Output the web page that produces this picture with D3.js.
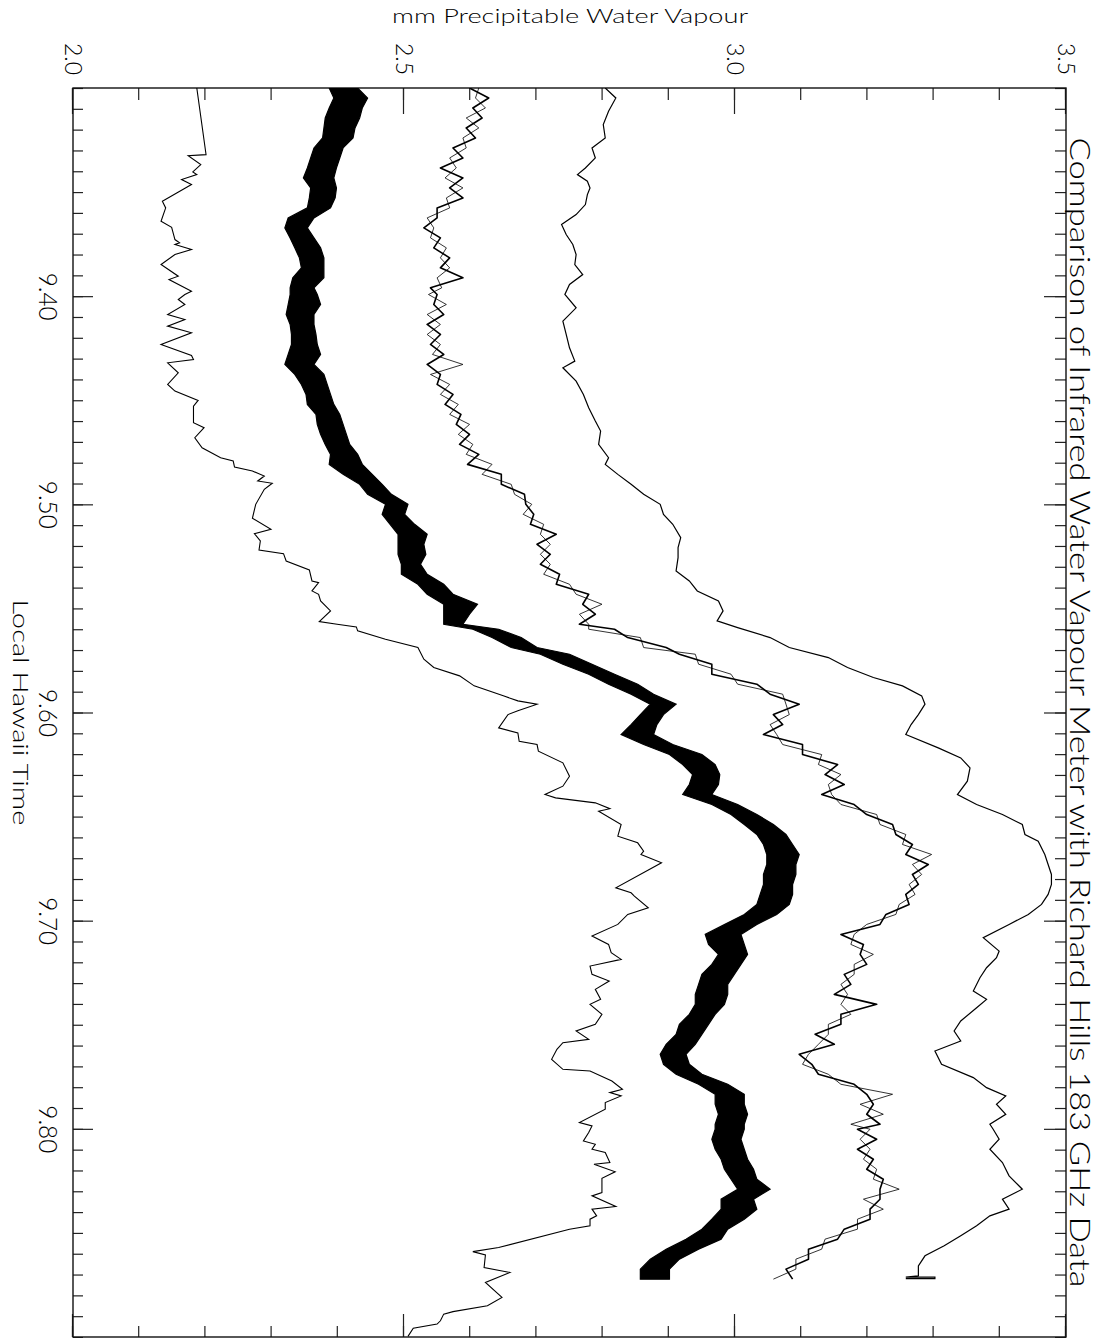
<!DOCTYPE html>
<html><head><meta charset="utf-8">
<script src="https://cdn.jsdelivr.net/npm/d3@7"></script>
<style>
body{margin:0;background:#fff}
svg{display:block}
text{font-family:"Lato","DejaVu Sans",sans-serif;font-weight:300;fill:#000}
</style>
</head><body>
<svg id="chart" width="1112" height="1338"></svg>
<script>
// ---------------- data ----------------
const titleText = "Comparison of Infrared Water Vapour Meter with Richard Hills 183 GHz Data";
const xTitle = "Local Hawaii Time";
const yTitle = "mm Precipitable Water Vapour";
const timeDomain = [9.30, 9.90];
const pwvDomain = [2.0, 3.5];
const timeTicks = [9.40, 9.50, 9.60, 9.70, 9.80];
const timeTickLabels = ["9.40", "9.50", "9.60", "9.70", "9.80"];
const pwvTicks = [2.0, 2.5, 3.0, 3.5];
const pwvTickLabels = ["2.0", "2.5", "3.0", "3.5"];

// series A: coarse trace (lowest)
const aTime = [9.3000,9.3320,9.3325,9.3368,9.3403,9.3416,9.3440,9.3464,9.3544,9.3576,9.3640,9.3669,9.3728,9.3744,9.3752,9.3776,9.3800,9.3848,9.3904,9.3920,9.3976,
9.3992,9.4016,9.4040,9.4088,9.4112,9.4144,9.4176,9.4232,9.4285,9.4304,9.4320,9.4368,9.4424,9.4456,9.4501,9.4528,9.4608,9.4632,9.4680,9.4728,9.4776,9.4792,9.4821,9.4840,9.4864,9.4888,9.4899,9.4928,
9.5000,9.5067,9.5120,9.5141,9.5176,9.5219,9.5237,9.5272,9.5315,9.5368,9.5376,9.5416,9.5432,9.5464,9.5512,9.5563,9.5576,9.5589,9.5608,9.5648,9.5688,9.5744,9.5784,9.5824,9.5872,9.5920,9.5944,9.5960,9.5992,
9.6010,9.6074,9.6098,9.6138,9.6154,9.6186,9.6242,9.6306,9.6354,9.6394,9.6410,9.6434,9.6462,9.6474,9.6538,9.6594,9.6626,9.6666,9.6682,9.6722,9.6842,9.6866,9.6882,9.6938,9.6970,
9.7018,9.7074,9.7114,9.7154,9.7186,9.7218,9.7258,9.7290,9.7330,9.7378,9.7402,9.7450,9.7498,9.7530,9.7570,9.7586,9.7618,9.7666,9.7714,9.7722,9.7770,9.7810,9.7826,9.7842,9.7874,9.7906,9.7970,9.7986,
9.8018,9.8058,9.8074,9.8098,9.8114,9.8162,9.8170,9.8206,9.8238,9.8306,9.8322,9.8373,9.8386,9.8418,9.8434,9.8466,9.8482,9.8570,9.8590,9.8606,9.8666,9.8690,9.8738,9.8810,9.8850,9.8878,9.8890,9.8922,9.8938,9.8958,9.8997];
const aValue = [2.187,2.201,2.174,2.193,2.181,2.187,2.164,2.179,2.135,2.140,2.133,2.149,2.154,2.161,2.154,2.179,2.154,2.133,2.159,2.145,2.179,
2.169,2.159,2.169,2.143,2.169,2.143,2.179,2.133,2.179,2.182,2.143,2.159,2.143,2.154,2.189,2.182,2.182,2.198,2.184,2.195,2.223,2.242,2.244,2.271,2.289,2.279,2.301,2.289,
2.276,2.271,2.299,2.274,2.283,2.281,2.318,2.322,2.357,2.361,2.371,2.361,2.371,2.374,2.389,2.372,2.399,2.428,2.430,2.472,2.521,2.530,2.545,2.584,2.606,2.650,2.672,2.701,2.672,
2.657,2.643,2.672,2.674,2.701,2.703,2.740,2.750,2.740,2.713,2.729,2.789,2.811,2.794,2.828,2.823,2.853,2.862,2.858,2.889,2.820,2.843,2.848,2.869,2.838,
2.823,2.784,2.809,2.813,2.828,2.781,2.784,2.810,2.789,2.797,2.781,2.799,2.789,2.760,2.779,2.740,2.731,2.723,2.740,2.781,2.814,2.830,2.811,2.828,2.804,2.804,2.765,2.784,
2.779,2.771,2.789,2.784,2.804,2.811,2.787,2.819,2.799,2.799,2.784,2.820,2.784,2.791,2.781,2.781,2.750,2.643,2.604,2.623,2.621,2.660,2.623,2.648,2.626,2.574,2.560,2.555,2.550,2.514,2.506];

// shared sample times for series B (dense band) and C (noisy trace)
const gridTime = [9.3000,9.3048,9.3096,9.3144,9.3192,9.3240,9.3288,9.3336,9.3384,9.3432,9.3480,9.3528,9.3576,9.3624,9.3672,9.3720,9.3768,9.3816,9.3864,9.3912,9.3960,
9.3992,9.4040,9.4088,9.4136,9.4184,9.4232,9.4280,9.4328,9.4376,9.4424,9.4472,9.4520,9.4568,9.4616,9.4664,9.4712,9.4760,9.4808,9.4856,9.4904,9.4952,
9.5000,9.5048,9.5096,9.5144,9.5192,9.5240,9.5288,9.5336,9.5384,9.5432,9.5480,9.5528,9.5576,9.5600,9.5640,9.5688,9.5720,9.5768,9.5816,9.5864,9.5912,9.5960,
9.6010,9.6058,9.6106,9.6154,9.6202,9.6250,9.6298,9.6346,9.6394,9.6442,9.6490,9.6538,9.6586,9.6634,9.6682,9.6730,9.6778,9.6826,9.6874,9.6922,9.6970,
9.7018,9.7066,9.7114,9.7162,9.7210,9.7258,9.7306,9.7354,9.7402,9.7450,9.7498,9.7546,9.7594,9.7642,9.7690,9.7738,9.7786,9.7834,9.7882,9.7930,9.7978,
9.8002,9.8050,9.8098,9.8146,9.8194,9.8242,9.8290,9.8338,9.8386,9.8434,9.8482,9.8530,9.8578,9.8626,9.8674,9.8722];

// series B: lower / upper envelope of the dense trace
const bandLow = [2.387,2.394,2.387,2.381,2.379,2.377,2.364,2.359,2.354,2.348,2.359,2.357,2.354,2.325,2.320,2.328,2.335,2.342,2.345,2.332,2.328,
2.328,2.325,2.322,2.328,2.330,2.330,2.325,2.320,2.335,2.345,2.352,2.354,2.367,2.369,2.374,2.381,2.389,2.387,2.408,2.433,2.445,
2.472,2.467,2.479,2.491,2.491,2.491,2.496,2.496,2.521,2.535,2.560,2.560,2.560,2.604,2.633,2.662,2.706,2.740,2.779,2.809,2.843,2.872,
2.857,2.843,2.828,2.862,2.901,2.921,2.936,2.931,2.921,2.965,2.994,3.014,3.033,3.043,3.048,3.048,3.043,3.043,3.038,3.033,3.014,
2.984,2.955,2.960,2.975,2.965,2.950,2.945,2.940,2.940,2.931,2.916,2.911,2.896,2.887,2.892,2.911,2.945,2.970,2.970,2.975,2.970,
2.970,2.965,2.970,2.979,2.984,2.994,3.004,2.979,2.979,2.965,2.950,2.926,2.896,2.872,2.857,2.857];
const bandHigh = [2.430,2.445,2.437,2.433,2.426,2.423,2.408,2.403,2.398,2.394,2.398,2.396,2.389,2.364,2.354,2.364,2.374,2.379,2.379,2.379,2.364,
2.369,2.374,2.364,2.364,2.367,2.369,2.374,2.364,2.379,2.384,2.389,2.394,2.403,2.408,2.413,2.418,2.430,2.437,2.452,2.467,2.481,
2.506,2.501,2.516,2.535,2.530,2.533,2.525,2.535,2.560,2.574,2.611,2.599,2.589,2.643,2.677,2.701,2.750,2.784,2.818,2.853,2.877,2.911,
2.892,2.882,2.877,2.906,2.950,2.970,2.977,2.975,2.965,3.004,3.033,3.058,3.077,3.087,3.097,3.092,3.092,3.087,3.087,3.082,3.063,
3.033,3.009,3.014,3.019,3.009,2.999,2.989,2.989,2.984,2.970,2.960,2.950,2.940,2.926,2.931,2.950,2.989,3.014,3.014,3.019,3.014,
3.014,3.009,3.014,3.019,3.028,3.033,3.053,3.028,3.033,3.014,2.989,2.979,2.945,2.916,2.901,2.901];

// series C: lower / upper extremes of the noisy trace
const noisyLow = [2.599,2.608,2.604,2.594,2.594,2.589,2.574,2.569,2.555,2.562,2.569,2.564,2.550,2.535,2.530,2.540,2.545,2.555,2.555,2.550,2.540,
2.537,2.545,2.535,2.535,2.535,2.540,2.543,2.535,2.540,2.550,2.555,2.562,2.569,2.579,2.582,2.584,2.594,2.596,2.618,2.647,2.667,
2.684,2.680,2.691,2.706,2.701,2.706,2.706,2.711,2.730,2.760,2.770,2.765,2.765,2.779,2.838,2.862,2.916,2.945,2.965,3.004,3.053,3.077,
3.058,3.053,3.043,3.072,3.102,3.126,3.136,3.141,3.131,3.160,3.199,3.219,3.243,3.253,3.258,3.268,3.268,3.263,3.258,3.248,3.228,
3.199,3.160,3.175,3.189,3.180,3.165,3.160,3.150,3.160,3.160,3.141,3.121,3.126,3.097,3.102,3.126,3.160,3.199,3.189,3.199,3.175,
3.185,3.189,3.185,3.194,3.199,3.209,3.219,3.194,3.204,3.185,3.165,3.136,3.111,3.092,3.077,3.058];
const noisyHigh = [2.613,2.628,2.623,2.618,2.613,2.608,2.594,2.589,2.579,2.589,2.589,2.589,2.569,2.550,2.545,2.555,2.564,2.569,2.569,2.589,2.557,
2.550,2.564,2.560,2.555,2.555,2.555,2.560,2.589,2.555,2.569,2.574,2.582,2.586,2.599,2.599,2.604,2.613,2.633,2.647,2.662,2.682,
2.693,2.696,2.711,2.730,2.721,2.721,2.721,2.735,2.750,2.779,2.799,2.789,2.779,2.818,2.857,2.896,2.940,2.965,2.994,3.033,3.072,3.097,
3.082,3.072,3.063,3.102,3.131,3.155,3.160,3.165,3.146,3.180,3.214,3.238,3.258,3.268,3.297,3.292,3.282,3.277,3.272,3.263,3.243,
3.219,3.180,3.194,3.209,3.199,3.180,3.175,3.170,3.214,3.175,3.160,3.141,3.150,3.111,3.116,3.141,3.180,3.238,3.209,3.224,3.219,
3.204,3.214,3.204,3.209,3.214,3.224,3.248,3.219,3.224,3.204,3.185,3.155,3.131,3.111,3.092,3.087];

// series D: smooth trace (highest)
const smoothTime = [9.3000,9.3048,9.3112,9.3176,9.3240,9.3288,9.3336,9.3384,9.3416,9.3448,9.3480,9.3512,9.3560,9.3608,9.3656,9.3704,9.3752,9.3800,9.3848,9.3896,9.3944,
9.3992,9.4056,9.4120,9.4184,9.4248,9.4312,9.4344,9.4408,9.4472,9.4536,9.4600,9.4648,9.4712,9.4776,9.4808,9.4856,9.4904,9.4952,
9.5000,9.5048,9.5096,9.5160,9.5208,9.5256,9.5320,9.5368,9.5416,9.5464,9.5512,9.5560,9.5592,9.5640,9.5688,9.5736,9.5784,9.5832,9.5872,9.5920,9.5960,
9.6010,9.6058,9.6106,9.6170,9.6218,9.6266,9.6330,9.6394,9.6442,9.6490,9.6538,9.6586,9.6618,9.6682,9.6730,9.6778,9.6826,9.6874,9.6922,9.6970,
9.7018,9.7082,9.7146,9.7178,9.7226,9.7274,9.7338,9.7378,9.7418,9.7482,9.7530,9.7578,9.7626,9.7690,9.7754,9.7802,9.7842,9.7882,9.7930,9.7978,
9.8002,9.8050,9.8098,9.8162,9.8226,9.8290,9.8338,9.8386,9.8418,9.8466,9.8514,9.8562,9.8610,9.8658,9.8706,9.8712,9.8712,9.8720,9.8720];
const smoothValue = [2.804,2.820,2.809,2.801,2.804,2.784,2.789,2.774,2.762,2.777,2.781,2.777,2.774,2.760,2.738,2.745,2.755,2.760,2.758,2.770,2.750,
2.743,2.760,2.740,2.745,2.750,2.758,2.740,2.760,2.771,2.779,2.789,2.797,2.794,2.809,2.804,2.823,2.843,2.862,
2.887,2.892,2.906,2.918,2.914,2.914,2.911,2.931,2.943,2.975,2.982,2.973,3.004,3.053,3.082,3.141,3.170,3.209,3.253,3.282,3.287,
3.277,3.266,3.258,3.307,3.341,3.355,3.351,3.336,3.365,3.404,3.434,3.438,3.458,3.468,3.473,3.478,3.478,3.473,3.463,3.443,
3.414,3.375,3.399,3.395,3.380,3.370,3.360,3.380,3.365,3.341,3.331,3.341,3.302,3.312,3.360,3.380,3.409,3.395,3.409,3.385,
3.390,3.399,3.385,3.404,3.414,3.434,3.404,3.414,3.385,3.365,3.341,3.316,3.287,3.277,3.277,3.258,3.302,3.302,3.258];

// ---------------- drawing ----------------
// The chart is built in landscape orientation and turned 90 degrees clockwise.
const FW = 1112;               // final width (= landscape height)
const plotL = 88, plotR = 1337;   // landscape x extent (time)
const plotB = FW - 73, plotT = FW - 1066; // landscape y extent (PWV)

const svg = d3.select("#chart");
svg.append("rect").attr("width", 1112).attr("height", 1338).attr("fill", "#fff");
const g = svg.append("g").attr("transform", `translate(${FW},0) rotate(90)`);

const x = d3.scaleLinear().domain(timeDomain).range([plotL, plotR]);
const y = d3.scaleLinear().domain(pwvDomain).range([plotB, plotT]);

const minorTime = d3.range(0, 61).map(i => 9.30 + i * 0.01);
const minorPwv = d3.range(0, 16).map(i => 2.0 + i * 0.1);

function styleAxis(sel) {
  sel.select(".domain").remove();
  sel.selectAll(".tick line").attr("stroke", "#222").attr("stroke-width", 1.2);
}

// time axis (bottom in landscape = left in final)
g.append("g").attr("transform", `translate(0,${plotB})`)
  .call(d3.axisBottom(x).tickValues(minorTime).tickSize(-10).tickFormat(""))
  .call(styleAxis);
const tAxis = g.append("g").attr("transform", `translate(0,${plotB})`)
  .call(d3.axisBottom(x).tickValues(timeTicks).tickSize(-20).tickPadding(16)
    .tickFormat((d, i) => timeTickLabels[i]))
  .call(styleAxis);
tAxis.selectAll("text").attr("font-size", 25).attr("textLength", 48)
  .attr("lengthAdjust", "spacingAndGlyphs").attr("fill", "#000");

// time axis mirrored (top in landscape = right in final)
g.append("g").attr("transform", `translate(0,${plotT})`)
  .call(d3.axisTop(x).tickValues(minorTime).tickSize(-11).tickFormat(""))
  .call(styleAxis);
g.append("g").attr("transform", `translate(0,${plotT})`)
  .call(d3.axisTop(x).tickValues(timeTicks).tickSize(-22).tickFormat(""))
  .call(styleAxis);

// PWV axis (left in landscape = top in final)
g.append("g").attr("transform", `translate(${plotL},0)`)
  .call(d3.axisLeft(y).tickValues(minorPwv).tickSize(-12).tickFormat(""))
  .call(styleAxis);
const vAxis = g.append("g").attr("transform", `translate(${plotL},0)`)
  .call(d3.axisLeft(y).tickValues(pwvTicks).tickSize(-26).tickPadding(13)
    .tickFormat((d, i) => pwvTickLabels[i]))
  .call(styleAxis);
vAxis.selectAll("text").attr("font-size", 24).attr("textLength", 32)
  .attr("lengthAdjust", "spacingAndGlyphs").attr("fill", "#000");

// PWV axis mirrored (right in landscape = bottom in final)
g.append("g").attr("transform", `translate(${plotR},0)`)
  .call(d3.axisRight(y).tickValues(minorPwv).tickSize(-11).tickFormat(""))
  .call(styleAxis);
g.append("g").attr("transform", `translate(${plotR},0)`)
  .call(d3.axisRight(y).tickValues(pwvTicks).tickSize(-23).tickFormat(""))
  .call(styleAxis);

// frame
g.append("rect").attr("x", plotL).attr("y", plotT)
  .attr("width", plotR - plotL).attr("height", plotB - plotT)
  .attr("fill", "none").attr("stroke", "#111").attr("stroke-width", 1.4);

// titles
g.append("text").attr("x", (plotL + plotR) / 2).attr("y", 42)
  .attr("text-anchor", "middle").attr("font-size", 28)
  .attr("textLength", 1150).attr("lengthAdjust", "spacingAndGlyphs")
  .text(titleText);
g.append("text").attr("x", (plotL + plotR) / 2).attr("y", FW - 13)
  .attr("text-anchor", "middle").attr("font-size", 22)
  .attr("textLength", 226).attr("lengthAdjust", "spacingAndGlyphs")
  .text(xTitle);
g.append("text").attr("transform", `translate(23,${FW - 570}) rotate(-90)`)
  .attr("text-anchor", "middle").attr("font-size", 20)
  .attr("textLength", 356).attr("lengthAdjust", "spacingAndGlyphs")
  .text(yTitle);

// data
g.append("clipPath").attr("id", "clip").append("rect")
  .attr("x", plotL).attr("y", plotT).attr("width", plotR - plotL).attr("height", plotB - plotT);
const data = g.append("g").attr("clip-path", "url(#clip)");

const line = d3.line().x(d => x(d[0])).y(d => y(d[1]));

// A
data.append("path").datum(aTime.map((t, i) => [t, aValue[i]]))
  .attr("d", line).attr("fill", "none").attr("stroke", "#000").attr("stroke-width", 1.1);

// B band
const bandData = gridTime.map((t, i) => ({t, lo: bandLow[i], hi: bandHigh[i]}));
data.append("path").datum(bandData)
  .attr("d", d3.area().x(d => x(d.t)).y0(d => y(d.lo)).y1(d => y(d.hi)))
  .attr("fill", "#000").attr("stroke", "#000").attr("stroke-width", 1.2);

// C noisy trace: alternate between read extremes
const noisyZig = gridTime.map((t, i) => [t, i % 2 === 0 ? noisyLow[i] : noisyHigh[i]]);
data.append("path").datum(noisyZig).attr("d", line)
  .attr("fill", "none").attr("stroke", "#000").attr("stroke-width", 1.6)
  .attr("stroke-linejoin", "round");
const noisyZig2 = gridTime.map((t, i) => [t, i % 2 === 0 ? noisyHigh[i] : noisyLow[i]]);
data.append("path").datum(noisyZig2).attr("d", line)
  .attr("fill", "none").attr("stroke", "#000").attr("stroke-width", 0.8)
  .attr("stroke-linejoin", "round");

// D smooth trace
data.append("path").datum(smoothTime.map((t, i) => [t, smoothValue[i]]))
  .attr("d", line).attr("fill", "none").attr("stroke", "#000").attr("stroke-width", 1.2);
</script>
</body></html>
